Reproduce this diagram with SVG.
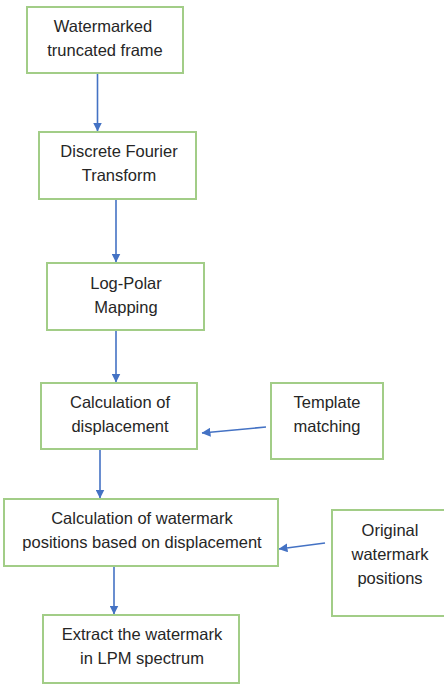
<svg xmlns="http://www.w3.org/2000/svg" width="444" height="684" viewBox="0 0 444 684">
<style>
.box{fill:#fff;stroke:#a2cd87;stroke-width:2}
.t{font-family:"Liberation Sans",Arial,sans-serif;font-size:16.5px;fill:#262626;text-anchor:middle}
.c{stroke:#4472c4;stroke-width:1.6;fill:none}
</style>
<defs>
<marker id="ah" markerWidth="9" markerHeight="9" refX="8.5" refY="4.5" orient="auto" markerUnits="userSpaceOnUse">
<path d="M0,0 L9,4.5 L0,9 z" fill="#4472c4"/>
</marker>
</defs>
<rect width="444" height="684" fill="#fff"/>
<g id="connectors">
<line class="c" x1="97.5" y1="73" x2="97.5" y2="131" marker-end="url(#ah)"/>
<line class="c" x1="116" y1="199" x2="116" y2="262" marker-end="url(#ah)"/>
<line class="c" x1="116" y1="326" x2="116" y2="382" marker-end="url(#ah)"/>
<line class="c" x1="266" y1="427" x2="202" y2="433" marker-end="url(#ah)"/>
<line class="c" x1="100" y1="442" x2="100" y2="498" marker-end="url(#ah)"/>
<line class="c" x1="325" y1="543" x2="279" y2="549" marker-end="url(#ah)"/>
<line class="c" x1="114" y1="557" x2="114" y2="614" marker-end="url(#ah)"/>
</g>
<g id="n1"><rect class="box" x="27" y="7" width="156" height="66"/>
<text class="t" x="103" y="32">Watermarked</text><text class="t" x="105" y="56">truncated frame</text></g>
<g id="n2"><rect class="box" x="39" y="132" width="157" height="67"/>
<text class="t" x="119" y="157">Discrete Fourier</text><text class="t" x="119" y="181">Transform</text></g>
<g id="n3"><rect class="box" x="47" y="263" width="157" height="67"/>
<text class="t" x="126" y="289">Log-Polar</text><text class="t" x="126" y="313">Mapping</text></g>
<g id="n4"><rect class="box" x="41" y="383" width="156" height="66"/>
<text class="t" x="120" y="408">Calculation of</text><text class="t" x="120" y="432">displacement</text></g>
<g id="n5"><rect class="box" x="271" y="383" width="112" height="76"/>
<text class="t" x="327" y="408">Template</text><text class="t" x="327" y="432">matching</text></g>
<g id="n6"><rect class="box" x="4" y="499" width="274" height="67"/>
<text class="t" x="142" y="524">Calculation of watermark</text><text class="t" x="142" y="548">positions based on displacement</text></g>
<g id="n7"><rect class="box" x="332" y="510" width="113" height="106"/>
<text class="t" x="390" y="536">Original</text><text class="t" x="390" y="560">watermark</text><text class="t" x="390" y="584">positions</text></g>
<g id="n8"><rect class="box" x="43" y="615" width="196" height="68"/>
<text class="t" x="142" y="640">Extract the watermark</text><text class="t" x="142" y="664">in LPM spectrum</text></g>
</svg>
